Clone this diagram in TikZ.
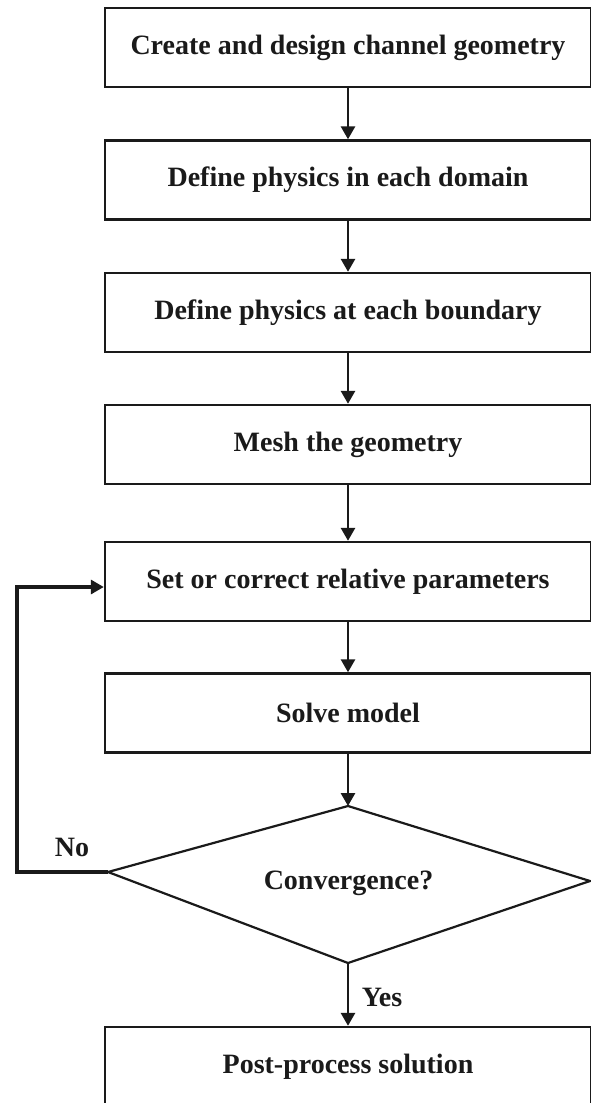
\documentclass[tikz,border=0pt]{standalone}
\usepackage{fontspec}
\setmainfont{Liberation Serif}
\usetikzlibrary{arrows.meta}
\definecolor{ink}{HTML}{1A1A1A}
\begin{document}
\begin{tikzpicture}[x=1pt,y=-1pt,
  every node/.style={font=\fontsize{28}{32}\selectfont\bfseries, text=ink, inner sep=0pt},
  stepbox/.style={draw=ink, line width=2.4pt, minimum width=486pt, minimum height=79pt, fill=white},
  arr/.style={draw=ink, line width=2.8pt, -{Triangle[width=14pt,length=13pt]}},
  fb/.style={draw=ink, line width=3.2pt, -{Triangle[width=14pt,length=13pt]}},
  lbl/.style={}]
\fill[white] (0,0) rectangle (590,1103);
\useasboundingbox (0,0) rectangle (590,1103);
\node[stepbox] (b1) at (348,47.5) {Create and design channel geometry};
\node[stepbox] (b2) at (348,180) {Define physics in each domain};
\node[stepbox] (b3) at (348,312.5) {Define physics at each boundary};
\node[stepbox] (b4) at (348,444.5) {Mesh the geometry};
\node[stepbox] (b5) at (348,581.5) {Set or correct relative parameters};
\node[stepbox] (b6) at (348,713) {Solve model};
\node[stepbox] (b7) at (348,1066.5) {Post-process solution};
% decision diamond
\coordinate (dT) at (348,806);
\coordinate (dR) at (590,881);
\coordinate (dB) at (348,963);
\coordinate (dL) at (108,872);
\draw[ink, line width=2.2pt, line join=miter] (dT) -- (dR) -- (dB) -- (dL) -- cycle;
\node (conv) at (348.5,883) {Convergence?};
% connectors
\draw[arr] (b1.south) -- (b2.north);
\draw[arr] (b2.south) -- (b3.north);
\draw[arr] (b3.south) -- (b4.north);
\draw[arr] (b4.south) -- (b5.north);
\draw[arr] (b5.south) -- (b6.north);
\draw[arr] (b6.south) -- (dT);
\draw[arr] (dB) -- (b7.north);
\node[lbl] (yes) at (382,997) {Yes};
\coordinate (fbc) at (17,587);
\draw[fb] (dL) -- (dL -| fbc) -- (fbc) -- (fbc -| b5.west);
\node[lbl] (no) at (72,847) {No};
\end{tikzpicture}
\end{document}
